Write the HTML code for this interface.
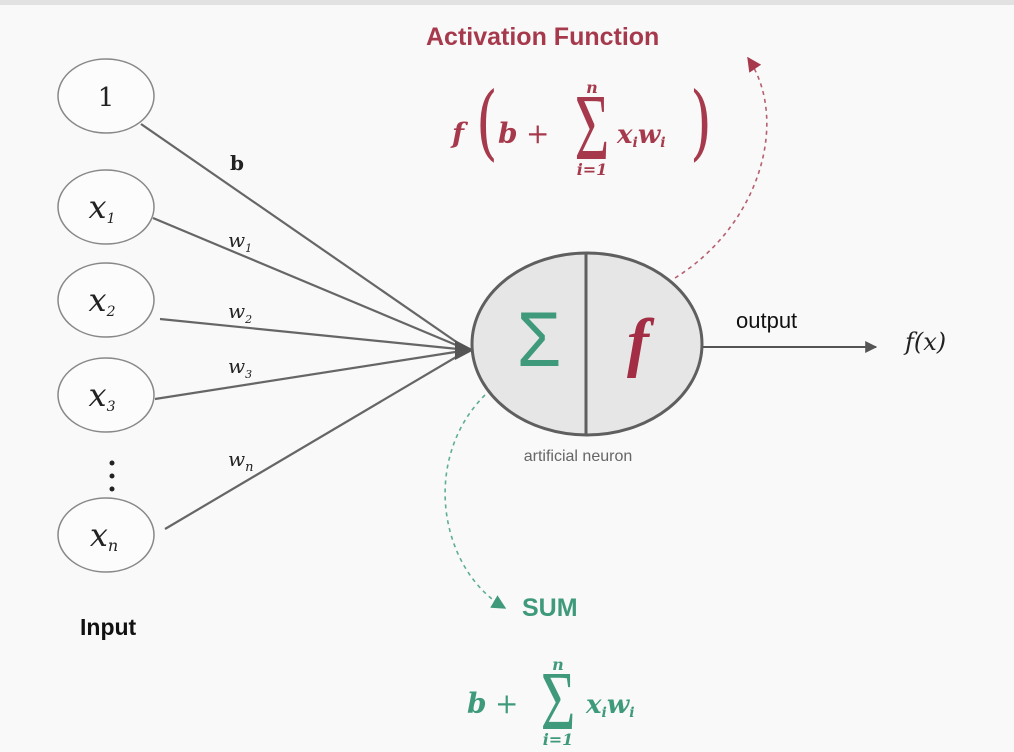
<!DOCTYPE html>
<html><head><meta charset="utf-8"><style>
html,body{margin:0;padding:0;width:1014px;height:752px;overflow:hidden;background:#f8f8f8}
svg{display:block}
.lbl{font-family:"DejaVu Serif","Liberation Serif",serif}
.sans{font-family:"Liberation Sans",sans-serif}
.ser{font-family:"Liberation Serif",serif}
</style></head><body>
<svg width="1014" height="752" viewBox="0 0 1014 752">
<defs>
<marker id="ag" viewBox="0 0 10 10" refX="9" refY="5" markerWidth="6" markerHeight="6" orient="auto"><path d="M0,0L10,5L0,10z" fill="#555"/></marker>
<marker id="ar" viewBox="0 0 10 10" refX="9" refY="5" markerWidth="9" markerHeight="9" orient="auto"><path d="M0,0L10,5L0,10z" fill="#a63a4c"/></marker>
<marker id="agr" viewBox="0 0 10 10" refX="9" refY="5" markerWidth="9" markerHeight="9" orient="auto"><path d="M0,0L10,5L0,10z" fill="#3f9a7b"/></marker>
</defs>
<rect x="0" y="0" width="1014" height="752" fill="#f9f9f9"/>
<rect x="0" y="0" width="1014" height="5" fill="#e2e2e2"/>

<g stroke="#666" stroke-width="2.2" fill="none">
<line x1="141" y1="124" x2="468" y2="350"/>
<line x1="153" y1="218" x2="468" y2="350"/>
<line x1="160" y1="319" x2="468" y2="350"/>
<line x1="155" y1="399" x2="468" y2="350"/>
<line x1="165" y1="529" x2="468" y2="350"/>
</g>
<path d="M455,340 L474,350 L455,360 z" fill="#555"/>

<g fill="#fcfcfc" stroke="#888" stroke-width="1.5">
<ellipse cx="106" cy="96" rx="48" ry="37"/>
<ellipse cx="106" cy="207" rx="48" ry="37"/>
<ellipse cx="106" cy="300" rx="48" ry="37"/>
<ellipse cx="106" cy="395" rx="48" ry="37"/>
<ellipse cx="106" cy="535" rx="48" ry="37"/>
</g>
<g class="lbl" fill="#222" text-anchor="middle">
<text x="106" y="106" font-size="26">1</text>
<text x="102" y="218" font-size="32" font-style="italic">x<tspan font-size="14" dy="5">1</tspan></text>
<text x="102" y="311" font-size="32" font-style="italic">x<tspan font-size="14" dy="5">2</tspan></text>
<text x="102" y="406" font-size="32" font-style="italic">x<tspan font-size="14" dy="5">3</tspan></text>
<text x="104" y="546" font-size="32" font-style="italic">x<tspan font-size="16" dy="5">n</tspan></text>
</g>
<g fill="#222">
<circle cx="112" cy="463" r="2.5"/><circle cx="112" cy="476" r="2.5"/><circle cx="112" cy="489" r="2.5"/>
</g>
<g class="lbl" fill="#222" font-size="20">
<text x="230" y="170" font-weight="bold">b</text>
<text x="228" y="247" font-style="italic">w<tspan font-size="11" dy="5">1</tspan></text>
<text x="228" y="318" font-style="italic">w<tspan font-size="11" dy="5">2</tspan></text>
<text x="228" y="373" font-style="italic">w<tspan font-size="11" dy="5">3</tspan></text>
<text x="228" y="466" font-style="italic">w<tspan font-size="13" dy="5">n</tspan></text>
</g>
<text x="80" y="635" style="font-family:'Liberation Sans',sans-serif;font-weight:bold" font-size="23" fill="#111">Input</text>

<ellipse cx="587" cy="344" rx="115" ry="91" fill="#e6e6e6" stroke="#5f5f5f" stroke-width="3"/>
<line x1="586" y1="253" x2="586" y2="435" stroke="#5f5f5f" stroke-width="3"/>
<text transform="translate(539,366) scale(1,1.08)" style="font-family:'Liberation Sans',sans-serif" font-size="72" fill="#3f9a7b" text-anchor="middle">Σ</text>
<text x="638" y="364" style="font-family:'Liberation Serif',serif" font-style="italic" font-weight="bold" font-size="66" fill="#a32d44" text-anchor="middle">f</text>
<text x="578" y="461" style="font-family:'Liberation Sans',sans-serif" font-size="16" fill="#666" text-anchor="middle">artificial neuron</text>

<line x1="703" y1="347" x2="876" y2="347" stroke="#555" stroke-width="2" marker-end="url(#ag)"/>
<text x="736" y="328" style="font-family:'Liberation Sans',sans-serif" font-size="22" fill="#111">output</text>
<text x="905" y="350" class="lbl" font-style="italic" font-size="24" fill="#222">f(x)</text>

<path d="M675,278 C760,225 790,120 748,58" fill="none" stroke="#b56070" stroke-width="1.6" stroke-dasharray="4,4" marker-end="url(#ar)"/>
<text x="426" y="45" style="font-family:'Liberation Sans',sans-serif;font-weight:bold" font-size="25" fill="#a63a4c">Activation Function</text>
<g class="lbl" fill="#a63a4c" font-weight="bold" font-style="italic">
<text x="452" y="143" font-size="28">f</text>
<text transform="translate(476,150) scale(1,1.45)" font-size="56" font-style="normal" font-weight="normal">(</text>
<text x="498" y="143" font-size="28">b</text>
<text x="526" y="143" font-size="28" font-style="normal" font-weight="normal">+</text>
<text transform="translate(592,159) scale(0.85,1.35)" style="font-family:'Liberation Serif',serif" font-size="70" font-style="normal" font-weight="normal" text-anchor="middle">Σ</text>
<text x="592" y="93" font-size="16" text-anchor="middle">n</text>
<text x="592" y="175" font-size="16" text-anchor="middle">i=1</text>
<text x="617" y="143" font-size="26">x<tspan font-size="14" dy="4">i</tspan><tspan dy="-4">w</tspan><tspan font-size="14" dy="4">i</tspan></text>
<text transform="translate(690,150) scale(1,1.45)" font-size="56" font-style="normal" font-weight="normal">)</text>
</g>

<path d="M485,395 C420,460 440,570 505,608" fill="none" stroke="#5fae92" stroke-width="1.6" stroke-dasharray="4,4" marker-end="url(#agr)"/>
<text x="522" y="616" style="font-family:'Liberation Sans',sans-serif;font-weight:bold" font-size="25" fill="#3f9a7b">SUM</text>
<g class="lbl" fill="#3f9a7b" font-weight="bold" font-style="italic">
<text x="467" y="713" font-size="28">b</text>
<text x="495" y="713" font-size="28" font-style="normal" font-weight="normal">+</text>
<text transform="translate(558,729) scale(0.85,1.2)" style="font-family:'Liberation Serif',serif" font-size="70" font-style="normal" font-weight="normal" text-anchor="middle">Σ</text>
<text x="558" y="670" font-size="16" text-anchor="middle">n</text>
<text x="558" y="745" font-size="16" text-anchor="middle">i=1</text>
<text x="586" y="713" font-size="26">x<tspan font-size="14" dy="4">i</tspan><tspan dy="-4">w</tspan><tspan font-size="14" dy="4">i</tspan></text>
</g>
</svg>
</body></html>
